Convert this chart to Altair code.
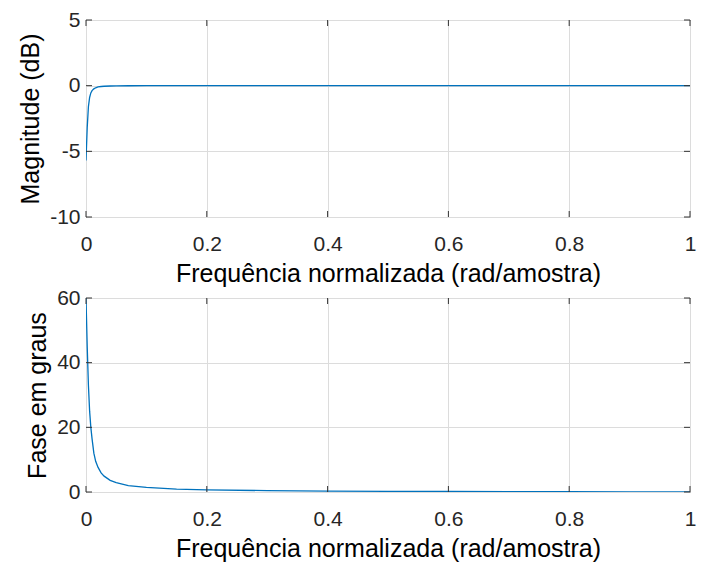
import altair as alt
import pandas as pd

freq = [0, 0.002, 0.004, 0.006, 0.008, 0.010, 0.013, 0.016, 0.020, 0.025, 0.030,
        0.040, 0.050, 0.070, 0.100, 0.150, 0.200, 0.300, 0.400, 0.500, 0.600,
        0.700, 0.800, 0.900, 1.000]
mag_db = [-5.7, -3.2, -1.6, -0.9, -0.55, -0.38, -0.24, -0.16, -0.10, -0.065, -0.045,
          -0.025, -0.016, -0.008, -0.004, -0.002, -0.001, 0, 0, 0, 0,
          0, 0, 0, 0]
phase_deg = [60, 45, 33, 25, 20, 16.5, 12, 9.5, 7.6, 5.9, 4.9,
             3.6, 2.9, 2.0, 1.4, 0.9, 0.65, 0.43, 0.3, 0.22, 0.16,
             0.11, 0.07, 0.03, 0]

x_ticks = [0, 0.2, 0.4, 0.6, 0.8, 1]
mag_ticks = [-10, -5, 0, 5]
phase_ticks = [0, 20, 40, 60]

W = 604
H1 = 197
H2 = 194
TL = 6
FONT = "Liberation Sans"
LINE = "#0072BD"
FRAME = "#333333"

df = pd.DataFrame({"f": freq, "m": mag_db, "p": phase_deg})
dx = pd.DataFrame({"t": x_ticks})


def panel(ycol, ytitle, ydomain, yticks, H):
    xs = alt.Scale(domain=[0, 1], nice=False, zero=False)
    ys = alt.Scale(domain=ydomain, nice=False, zero=False)
    xax = alt.Axis(values=x_ticks, labelExpr="datum.value + ''", labelFlush=False,
                   title="Frequência normalizada (rad/amostra)")
    yax = alt.Axis(values=yticks, labelExpr="datum.value + ''", labelFlush=False,
                   title=ytitle)
    line = alt.Chart(df).mark_line(color=LINE, strokeWidth=1.3, clip=True).encode(
        x=alt.X("f:Q", scale=xs, axis=xax),
        y=alt.Y(f"{ycol}:Q", scale=ys, axis=yax),
    )
    dy = pd.DataFrame({"t": yticks})
    tb = alt.Chart(dx).mark_rule(color=FRAME, strokeWidth=1).encode(
        x=alt.X("t:Q", scale=xs), y=alt.value(H), y2=alt.value(H - TL))
    tt = alt.Chart(dx).mark_rule(color=FRAME, strokeWidth=1).encode(
        x=alt.X("t:Q", scale=xs), y=alt.value(0), y2=alt.value(TL))
    tl = alt.Chart(dy).mark_rule(color=FRAME, strokeWidth=1).encode(
        y=alt.Y("t:Q", scale=ys), x=alt.value(0), x2=alt.value(TL))
    tr = alt.Chart(dy).mark_rule(color=FRAME, strokeWidth=1).encode(
        y=alt.Y("t:Q", scale=ys), x=alt.value(W), x2=alt.value(W - TL))
    return alt.layer(line, tb, tt, tl, tr).properties(width=W, height=H)


top = panel("m", "Magnitude (dB)", [-10, 5], mag_ticks, H1)
bot = panel("p", "Fase em graus", [0, 60], phase_ticks, H2)

chart = alt.vconcat(top, bot, spacing=81, bounds="flush").properties(
    padding={"left": 10, "top": 0, "right": 0, "bottom": 0},
    background="white",
).configure_view(
    stroke=FRAME, strokeWidth=1
).configure_axis(
    domain=False, ticks=False, grid=True, gridColor="#dcdcdc", gridWidth=1,
    labelFont=FONT, labelFontSize=21, labelColor="#262626",
    titleFont=FONT, titleFontSize=25, titleColor="#000000", titleFontWeight="normal",
).configure_axisX(
    labelPadding=16, titlePadding=7
).configure_axisY(
    labelPadding=6, titlePadding=6
)

chart.save("out.html", embed_options={"renderer": "svg", "actions": False})
